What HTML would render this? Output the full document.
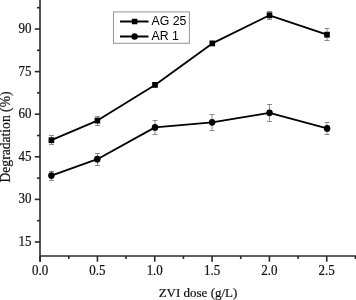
<!DOCTYPE html>
<html><head><meta charset="utf-8"><style>
html,body{margin:0;padding:0;background:#fff;width:356px;height:300px;overflow:hidden;font-family:"Liberation Sans",sans-serif;}
svg{display:block;will-change:transform;}
.s{font-family:"Liberation Serif",serif;}
.a{font-family:"Liberation Sans",sans-serif;}
</style></head><body>
<svg width="356" height="300" viewBox="0 0 356 300">
<rect width="356" height="300" fill="#fff"/>
<line x1="40" y1="0" x2="40" y2="261.7" stroke="#2a2a2a" stroke-width="1.6"/>
<line x1="40" y1="256" x2="356" y2="256" stroke="#2a2a2a" stroke-width="1.6"/>
<line x1="34.8" y1="242.00" x2="40" y2="242.00" stroke="#2a2a2a" stroke-width="1.6"/>
<text transform="translate(31.6,245.90) scale(1.0,1.12)" text-anchor="end" class="s" font-size="13" fill="#111" stroke="#111" stroke-width="0.2">15</text>
<line x1="34.8" y1="199.40" x2="40" y2="199.40" stroke="#2a2a2a" stroke-width="1.6"/>
<text transform="translate(31.6,203.30) scale(1.0,1.12)" text-anchor="end" class="s" font-size="13" fill="#111" stroke="#111" stroke-width="0.2">30</text>
<line x1="34.8" y1="156.80" x2="40" y2="156.80" stroke="#2a2a2a" stroke-width="1.6"/>
<text transform="translate(31.6,160.70) scale(1.0,1.12)" text-anchor="end" class="s" font-size="13" fill="#111" stroke="#111" stroke-width="0.2">45</text>
<line x1="34.8" y1="114.20" x2="40" y2="114.20" stroke="#2a2a2a" stroke-width="1.6"/>
<text transform="translate(31.6,118.10) scale(1.0,1.12)" text-anchor="end" class="s" font-size="13" fill="#111" stroke="#111" stroke-width="0.2">60</text>
<line x1="34.8" y1="71.60" x2="40" y2="71.60" stroke="#2a2a2a" stroke-width="1.6"/>
<text transform="translate(31.6,75.50) scale(1.0,1.12)" text-anchor="end" class="s" font-size="13" fill="#111" stroke="#111" stroke-width="0.2">75</text>
<line x1="34.8" y1="29.00" x2="40" y2="29.00" stroke="#2a2a2a" stroke-width="1.6"/>
<text transform="translate(31.6,32.90) scale(1.0,1.12)" text-anchor="end" class="s" font-size="13" fill="#111" stroke="#111" stroke-width="0.2">90</text>
<line x1="37" y1="220.70" x2="40" y2="220.70" stroke="#2a2a2a" stroke-width="1.6"/>
<line x1="37" y1="178.10" x2="40" y2="178.10" stroke="#2a2a2a" stroke-width="1.6"/>
<line x1="37" y1="135.50" x2="40" y2="135.50" stroke="#2a2a2a" stroke-width="1.6"/>
<line x1="37" y1="92.90" x2="40" y2="92.90" stroke="#2a2a2a" stroke-width="1.6"/>
<line x1="37" y1="50.30" x2="40" y2="50.30" stroke="#2a2a2a" stroke-width="1.6"/>
<line x1="37" y1="7.70" x2="40" y2="7.70" stroke="#2a2a2a" stroke-width="1.6"/>
<line x1="40.10" y1="256" x2="40.10" y2="261.7" stroke="#2a2a2a" stroke-width="1.6"/>
<text transform="translate(40.10,274.5) scale(1.0,1.12)" text-anchor="middle" class="s" font-size="13" fill="#111" stroke="#111" stroke-width="0.2">0.0</text>
<line x1="97.43" y1="256" x2="97.43" y2="261.7" stroke="#2a2a2a" stroke-width="1.6"/>
<text transform="translate(97.43,274.5) scale(1.0,1.12)" text-anchor="middle" class="s" font-size="13" fill="#111" stroke="#111" stroke-width="0.2">0.5</text>
<line x1="154.75" y1="256" x2="154.75" y2="261.7" stroke="#2a2a2a" stroke-width="1.6"/>
<text transform="translate(154.75,274.5) scale(1.0,1.12)" text-anchor="middle" class="s" font-size="13" fill="#111" stroke="#111" stroke-width="0.2">1.0</text>
<line x1="212.08" y1="256" x2="212.08" y2="261.7" stroke="#2a2a2a" stroke-width="1.6"/>
<text transform="translate(212.08,274.5) scale(1.0,1.12)" text-anchor="middle" class="s" font-size="13" fill="#111" stroke="#111" stroke-width="0.2">1.5</text>
<line x1="269.40" y1="256" x2="269.40" y2="261.7" stroke="#2a2a2a" stroke-width="1.6"/>
<text transform="translate(269.40,274.5) scale(1.0,1.12)" text-anchor="middle" class="s" font-size="13" fill="#111" stroke="#111" stroke-width="0.2">2.0</text>
<line x1="326.73" y1="256" x2="326.73" y2="261.7" stroke="#2a2a2a" stroke-width="1.6"/>
<text transform="translate(326.73,274.5) scale(1.0,1.12)" text-anchor="middle" class="s" font-size="13" fill="#111" stroke="#111" stroke-width="0.2">2.5</text>
<line x1="68.76" y1="256" x2="68.76" y2="259" stroke="#2a2a2a" stroke-width="1.6"/>
<line x1="126.09" y1="256" x2="126.09" y2="259" stroke="#2a2a2a" stroke-width="1.6"/>
<line x1="183.41" y1="256" x2="183.41" y2="259" stroke="#2a2a2a" stroke-width="1.6"/>
<line x1="240.74" y1="256" x2="240.74" y2="259" stroke="#2a2a2a" stroke-width="1.6"/>
<line x1="298.06" y1="256" x2="298.06" y2="259" stroke="#2a2a2a" stroke-width="1.6"/>
<line x1="355.39" y1="256" x2="355.39" y2="259" stroke="#2a2a2a" stroke-width="1.6"/>
<text transform="translate(198,296.8) scale(1,1.0)" text-anchor="middle" class="s" font-size="13" fill="#111" stroke="#111" stroke-width="0.2">ZVI dose (g/L)</text>
<text transform="translate(9.8,137) rotate(-90)" text-anchor="middle" class="s" font-size="13.6" fill="#111" stroke="#111" stroke-width="0.2">Degradation (%)</text>
<line x1="51.50" y1="135.50" x2="51.50" y2="144.50" stroke="#808080" stroke-width="0.9"/>
<line x1="49.00" y1="135.50" x2="54.00" y2="135.50" stroke="#808080" stroke-width="0.9"/>
<line x1="49.00" y1="144.50" x2="54.00" y2="144.50" stroke="#808080" stroke-width="0.9"/>
<line x1="97.50" y1="116.50" x2="97.50" y2="125.50" stroke="#808080" stroke-width="0.9"/>
<line x1="95.00" y1="116.50" x2="100.00" y2="116.50" stroke="#808080" stroke-width="0.9"/>
<line x1="95.00" y1="125.50" x2="100.00" y2="125.50" stroke="#808080" stroke-width="0.9"/>
<line x1="155.00" y1="83.50" x2="155.00" y2="86.50" stroke="#808080" stroke-width="0.9"/>
<line x1="152.50" y1="83.50" x2="157.50" y2="83.50" stroke="#808080" stroke-width="0.9"/>
<line x1="152.50" y1="86.50" x2="157.50" y2="86.50" stroke="#808080" stroke-width="0.9"/>
<line x1="212.50" y1="42.50" x2="212.50" y2="44.50" stroke="#808080" stroke-width="0.9"/>
<line x1="210.00" y1="42.50" x2="215.00" y2="42.50" stroke="#808080" stroke-width="0.9"/>
<line x1="210.00" y1="44.50" x2="215.00" y2="44.50" stroke="#808080" stroke-width="0.9"/>
<line x1="269.50" y1="11.50" x2="269.50" y2="19.50" stroke="#808080" stroke-width="0.9"/>
<line x1="267.00" y1="11.50" x2="272.00" y2="11.50" stroke="#808080" stroke-width="0.9"/>
<line x1="267.00" y1="19.50" x2="272.00" y2="19.50" stroke="#808080" stroke-width="0.9"/>
<line x1="327.00" y1="28.50" x2="327.00" y2="40.50" stroke="#808080" stroke-width="0.9"/>
<line x1="324.50" y1="28.50" x2="329.50" y2="28.50" stroke="#808080" stroke-width="0.9"/>
<line x1="324.50" y1="40.50" x2="329.50" y2="40.50" stroke="#808080" stroke-width="0.9"/>
<line x1="51.50" y1="171.50" x2="51.50" y2="180.50" stroke="#808080" stroke-width="0.9"/>
<line x1="49.00" y1="171.50" x2="54.00" y2="171.50" stroke="#808080" stroke-width="0.9"/>
<line x1="49.00" y1="180.50" x2="54.00" y2="180.50" stroke="#808080" stroke-width="0.9"/>
<line x1="97.50" y1="153.50" x2="97.50" y2="165.50" stroke="#808080" stroke-width="0.9"/>
<line x1="95.00" y1="153.50" x2="100.00" y2="153.50" stroke="#808080" stroke-width="0.9"/>
<line x1="95.00" y1="165.50" x2="100.00" y2="165.50" stroke="#808080" stroke-width="0.9"/>
<line x1="155.00" y1="120.50" x2="155.00" y2="134.50" stroke="#808080" stroke-width="0.9"/>
<line x1="152.50" y1="120.50" x2="157.50" y2="120.50" stroke="#808080" stroke-width="0.9"/>
<line x1="152.50" y1="134.50" x2="157.50" y2="134.50" stroke="#808080" stroke-width="0.9"/>
<line x1="212.00" y1="114.50" x2="212.00" y2="130.50" stroke="#808080" stroke-width="0.9"/>
<line x1="209.50" y1="114.50" x2="214.50" y2="114.50" stroke="#808080" stroke-width="0.9"/>
<line x1="209.50" y1="130.50" x2="214.50" y2="130.50" stroke="#808080" stroke-width="0.9"/>
<line x1="269.50" y1="104.50" x2="269.50" y2="121.50" stroke="#808080" stroke-width="0.9"/>
<line x1="267.00" y1="104.50" x2="272.00" y2="104.50" stroke="#808080" stroke-width="0.9"/>
<line x1="267.00" y1="121.50" x2="272.00" y2="121.50" stroke="#808080" stroke-width="0.9"/>
<line x1="327.00" y1="122.50" x2="327.00" y2="134.50" stroke="#808080" stroke-width="0.9"/>
<line x1="324.50" y1="122.50" x2="329.50" y2="122.50" stroke="#808080" stroke-width="0.9"/>
<line x1="324.50" y1="134.50" x2="329.50" y2="134.50" stroke="#808080" stroke-width="0.9"/>
<polyline points="51.40,140.20 97.40,120.60 155.00,84.90 212.30,43.40 269.50,15.30 327.00,34.70" fill="none" stroke="#000" stroke-width="1.8" stroke-linejoin="round"/>
<polyline points="51.40,175.60 97.30,159.20 155.00,127.40 212.10,122.30 269.50,112.80 327.10,128.40" fill="none" stroke="#000" stroke-width="1.8" stroke-linejoin="round"/>
<rect x="48.60" y="137.30" width="5.6" height="5.8" fill="#000"/>
<rect x="94.60" y="117.70" width="5.6" height="5.8" fill="#000"/>
<rect x="152.20" y="82.00" width="5.6" height="5.8" fill="#000"/>
<rect x="209.50" y="40.50" width="5.6" height="5.8" fill="#000"/>
<rect x="266.70" y="12.40" width="5.6" height="5.8" fill="#000"/>
<rect x="324.20" y="31.80" width="5.6" height="5.8" fill="#000"/>
<ellipse cx="51.40" cy="175.60" rx="3.25" ry="3.4" fill="#000"/>
<ellipse cx="97.30" cy="159.20" rx="3.25" ry="3.4" fill="#000"/>
<ellipse cx="155.00" cy="127.40" rx="3.25" ry="3.4" fill="#000"/>
<ellipse cx="212.10" cy="122.30" rx="3.25" ry="3.4" fill="#000"/>
<ellipse cx="269.50" cy="112.80" rx="3.25" ry="3.4" fill="#000"/>
<ellipse cx="327.10" cy="128.40" rx="3.25" ry="3.4" fill="#000"/>
<rect x="113.5" y="11.9" width="75.9" height="31.4" fill="#fff" stroke="#999" stroke-width="1.05"/>
<line x1="120" y1="21.5" x2="148.5" y2="21.5" stroke="#000" stroke-width="2"/>
<rect x="131.85" y="18.75" width="5.5" height="5.5" fill="#000"/>
<line x1="120" y1="36.5" x2="148.5" y2="36.5" stroke="#000" stroke-width="2"/>
<circle cx="134.6" cy="36.5" r="3.2" fill="#000"/>
<text x="151.6" y="25.4" class="a" font-size="12.3" fill="#000">AG 25</text>
<text x="151.6" y="40.4" class="a" font-size="12.3" fill="#000">AR 1</text>
</svg>
</body></html>
